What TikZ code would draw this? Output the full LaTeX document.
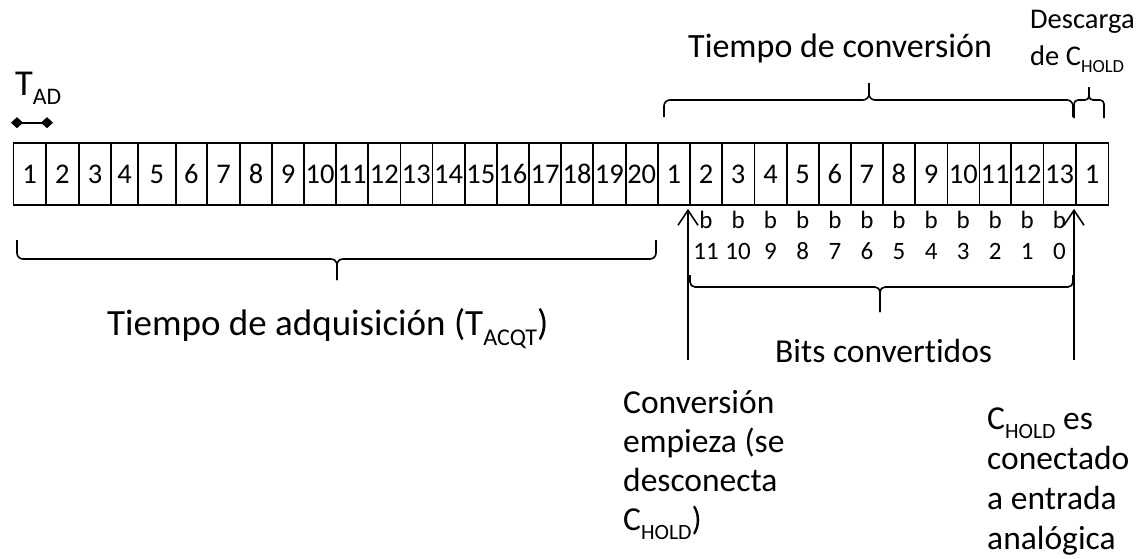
\documentclass[tikz,border=0pt]{standalone}
\usepackage{fontspec}
\usepackage{graphicx}
\setmainfont{Carlito}[Ligatures={NoCommon}]
\usetikzlibrary{arrows.meta}
\newcommand\lsub[1]{\raisebox{-0.27em}{\scalebox{0.65}{#1}}}
\tikzset{
  cell/.style={draw, line width=1.6pt, minimum height=62pt, inner sep=0pt, text height=18pt, text depth=0pt, font=\fontsize{28.5}{32}\selectfont},
  bitlbl/.style={inner sep=0pt, anchor=base, font=\fontsize{25}{29}\selectfont},
  lbl/.style={inner sep=0pt, anchor=base west, font=\fontsize{33.5}{39}\selectfont},
  brc/.style={line width=1.6pt, rounded corners=6pt},
  arr/.style={line width=1.6pt, -{Straight Barb[length=15pt,width=20pt,line width=1.6pt]}},
}
\begin{document}
\begin{tikzpicture}[x=1pt,y=-1pt]
\useasboundingbox (0,0) rectangle (1142,558);
% cells
\foreach \n/\l/\r/\t in {1/13.3/45.7/1,2/45.7/79/2,3/79/111/3,4/111/138/4,5/138/175.7/5,
  6/175.7/207/6,7/207/240/7,8/240/272/8,9/272/304/9,10/304/336/10,11/336/368/11,
  12/368/400.5/12,13/400.5/432.3/13,14/432.3/465/14,15/465/496.7/15,16/496.7/529/16,
  17/529/561/17,18/561/593/18,19/593/625.7/19,20/625.7/657.7/20,21/657.7/690/1,
  22/690/722/2,23/722/754.3/3,24/754.3/786.7/4,25/786.7/818.7/5,26/818.7/851/6,
  27/851/882.7/7,28/882.7/915/8,29/915/947.3/9,30/947.3/979.3/10,31/979.3/1011/11,
  32/1011/1043.3/12,33/1043.3/1075.7/13,34/1075.7/1108.3/1}
{
  \node[cell, minimum width={\r-\l}] (c\n) at ({(\l+\r)/2},174) {\t};
}
% bit labels
\foreach \k/\v in {22/11,23/10,24/9,25/8,26/7,27/6,28/5,29/4,30/3,31/2,32/1,33/0}
{
  \node[bitlbl] (b\k) at (c\k.center |- 0,228) {b};
  \node[bitlbl] (v\k) at (c\k.center |- 0,259) {\v};
}
% T_AD
\node[lbl, font=\fontsize{36.5}{40}\selectfont] (tad) at (15,95) {T\lsub{AD}};
\coordinate (dl) at (11,122.7);
\coordinate (dr) at (53,122.7);
\draw[line width=1.6pt, {Diamond[length=12pt,width=11pt]}-{Diamond[length=12pt,width=11pt]}] (dl) -- (dr);
% top labels
\node[lbl, font=\fontsize{34}{39}\selectfont] (tconv) at (688,57) {Tiempo de conversión};
\node[lbl, font=\fontsize{28.5}{37}\selectfont] (desc1) at (1030,28) {Descarga};
\node[lbl, font=\fontsize{28.5}{37}\selectfont] (desc2) at (1030,65) {de C\lsub{HOLD}};
% braces
\draw[brc] (664,117) -- (664,100) -- (869,100) -- (869,83);
\draw[brc] (1073,117) -- (1073,100) -- (869,100) -- (869,83);
\draw[brc, rounded corners=4pt] (1074,118) -- (1074,100) -- (1089,100) -- (1089,87);
\draw[brc, rounded corners=4pt] (1104,118) -- (1104,100) -- (1089,100) -- (1089,87);
\draw[brc] (17,240) -- (17,259) -- (337,259) -- (337,280);
\draw[brc] (656,240) -- (656,259) -- (337,259) -- (337,280);
\draw[brc, rounded corners=5pt] (690,275) -- (690,287) -- (880,287) -- (880,312);
\draw[brc, rounded corners=5pt] (1073,275) -- (1073,287) -- (880,287) -- (880,312);
% bottom labels
\node[lbl, font=\fontsize{37}{46}\selectfont] (tacq) at (107,335) {Tiempo de adquisición (T\lsub{ACQT})};
\node[lbl] (bits) at (775,362) {Bits convertidos};
% arrows
\coordinate (s1) at (688,360);
\coordinate (s2) at (1074,360);
\draw[arr, shorten >=3pt] (s1) -- (s1 |- c22.south);
\draw[arr, shorten >=3pt] (s2) -- (s2 |- c34.south);
% notes
\node[lbl] (n1) at (623,413) {Conversión};
\node[lbl] (n2) at (623,452) {empieza (se};
\node[lbl] (n3) at (623,491) {desconecta};
\node[lbl] (n4) at (623,530) {C\lsub{HOLD})};
\node[lbl] (m1) at (987,429) {C\lsub{HOLD} es};
\node[lbl] (m2) at (987,469) {conectado};
\node[lbl] (m3) at (987,509) {a entrada};
\node[lbl] (m4) at (987,549) {analógica};
\end{tikzpicture}
\end{document}
